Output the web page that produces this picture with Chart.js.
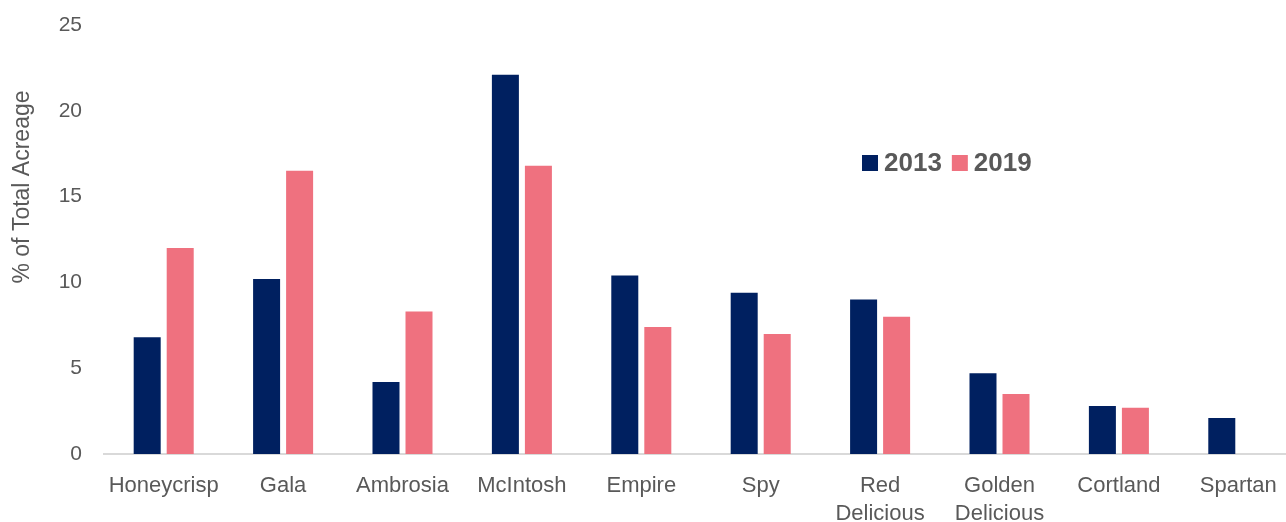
<!DOCTYPE html>
<html>
<head>
<meta charset="utf-8">
<script src="https://cdn.jsdelivr.net/npm/chart.js@4"></script>
<style>
  html, body { margin: 0; padding: 0; background: #fff; overflow: hidden; }
  #wrap { width: 1298px; height: 522px; }
</style>
</head>
<body>
<div id="wrap"><canvas id="acreageChart"></canvas></div>
<script>
const varieties = ['Honeycrisp', 'Gala', 'Ambrosia', 'McIntosh', 'Empire', 'Spy',
  ['Red', 'Delicious'], ['Golden', 'Delicious'], 'Cortland', 'Spartan'];
const share2013 = [6.8, 10.2, 4.2, 22.1, 10.4, 9.4, 9.0, 4.7, 2.8, 2.1];
const share2019 = [12.0, 16.5, 8.3, 16.8, 7.4, 7.0, 8.0, 3.5, 2.7, null];
const yTicks = [0, 5, 10, 15, 20, 25];
const yTitle = '% of Total Acreage';

const textGray = '#595959';
const fontFamily = '"Liberation Sans", Arial, sans-serif';

// legend and axis title drawn by hand, the original has them off-centre
const extras = {
  id: 'extras',
  afterDraw(chart) {
    const ctx = chart.ctx;
    ctx.save();
    let x = 862, y = 163;
    ctx.font = 'bold 26px ' + fontFamily;
    ctx.textBaseline = 'middle';
    chart.data.datasets.forEach(ds => {
      ctx.fillStyle = ds.backgroundColor;
      ctx.fillRect(x, y - 8, 16, 16);
      x += 22;
      ctx.fillStyle = textGray;
      ctx.fillText(ds.label, x, y + 1);
      x += ctx.measureText(ds.label).width + 10;
    });

    ctx.translate(23, 187);
    ctx.rotate(-Math.PI / 2);
    ctx.font = '23px ' + fontFamily;
    ctx.textAlign = 'center';
    ctx.fillStyle = textGray;
    ctx.fillText(yTitle, 0, 0);
    ctx.restore();
  }
};

const acreageCtx = document.getElementById('acreageChart').getContext('2d');

const acreageChart = new Chart(acreageCtx, {
  type: 'bar',
  data: {
    labels: varieties,
    datasets: [{
      label: '2013',
      data: share2013,
      backgroundColor: '#002060',
      categoryPercentage: 0.553,
      barPercentage: 0.818
    }, {
      label: '2019',
      data: share2019,
      backgroundColor: '#EF717F',
      categoryPercentage: 0.553,
      barPercentage: 0.818
    }]
  },
  options: {
    responsive: true,
    maintainAspectRatio: false,
    animation: false,
    layout: { padding: { top: 25, right: 0, left: 0, bottom: 0 } },
    plugins: {
      legend: { display: false },
      tooltip: { enabled: false }
    },
    scales: {
      x: {
        grid: { display: false, drawTicks: false },
        border: { display: true, color: '#D9D9D9', width: 2 },
        ticks: {
          color: textGray,
          font: { family: fontFamily, size: 22, lineHeight: 1.27 },
          padding: 18,
          maxRotation: 0,
          autoSkip: false
        },
        afterFit(scale) { scale.height = 68; }
      },
      y: {
        min: 0,
        max: 25,
        afterBuildTicks(scale) { scale.ticks = yTicks.map(v => ({ value: v })); },
        grid: { display: false, drawTicks: false },
        border: { display: false },
        ticks: {
          color: textGray,
          font: { family: fontFamily, size: 21 },
          padding: 22
        },
        afterFit(scale) {
          scale.width = 104;
          scale.paddingTop = 0;
          scale.paddingBottom = 0;
        }
      }
    }
  },
  plugins: [extras]
});
</script>
</body>
</html>
